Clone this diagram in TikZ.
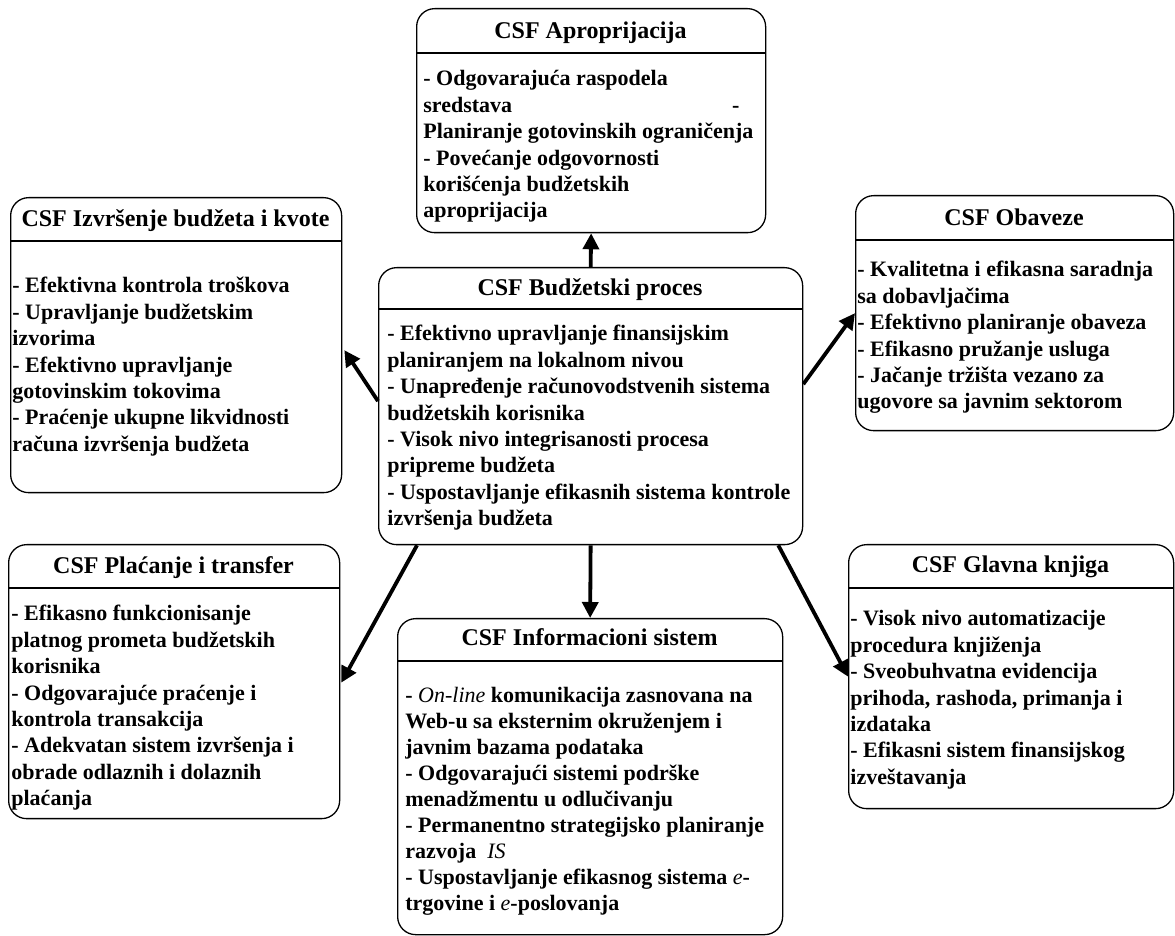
\documentclass[tikz,border=0pt]{standalone}
\usepackage{fontspec}
\setmainfont{Liberation Serif}
\usetikzlibrary{arrows.meta,calc}

% fonts for box titles and box bodies
\newcommand\hdfont{\fontsize{12}{14}\selectfont\bfseries}
\newcommand\bdfont{\fontsize{11}{13.2}\selectfont\bfseries}
\newcommand\infofont{\fontsize{11}{12.95}\selectfont\bfseries}
% left-aligned block of lines whose baseline is that of its first line
\newcommand\csflines[1]{\vtop{\let\\\cr\halign{##\hfil\cr#1\crcr}}}
% rounded box from (x1,y1) to (x2,y2) with a title rule at height y
\newcommand\csfbox[6]{%
  \node[box, minimum width={(#4-#2)*0.5pt}, minimum height={(#5-#3)*0.5pt}] (#1) at (#2,#3) {};
  \draw[rule] (#2,#6) -- (#4,#6);}

\begin{document}
\begin{tikzpicture}[x=0.5pt, y=-0.5pt,
  box/.style={draw, line width=0.65pt, rounded corners=9pt, inner sep=0pt, anchor=north west},
  rule/.style={line width=0.65pt},
  head/.style={font=\hdfont, anchor=base, inner sep=0pt},
  body/.style={font=\bdfont, anchor=base west, inner sep=0pt},
  link/.style={line width=1.9pt, -{Triangle[length=8pt,width=8pt]}}]
\useasboundingbox (0,0) rectangle (1175,936);

% boxes
\csfbox{ap}{416}{8}{765}{232}{53}
\csfbox{izv}{10}{197}{341}{492}{241}
\csfbox{bp}{378}{267}{802}{544}{309}
\csfbox{ob}{855}{195}{1173}{430}{240}
\csfbox{pl}{8}{544}{339}{818}{588}
\csfbox{info}{397}{618}{782}{934}{661}
\csfbox{gk}{848}{544}{1173}{808}{588}

% titles
\node[head] (apH)   at (590.5,39)  {CSF Aproprijacija};
\node[head] (izvH)  at (175.5,227) {CSF Izvršenje budžeta i kvote};
\node[head] (bpH)   at (590,296)   {CSF Budžetski proces};
\node[head] (obH)   at (1014,226)  {CSF Obaveze};
\node[head] (plH)   at (173.5,574) {CSF Plaćanje i transfer};
\node[head] (infoH) at (589.5,646) {CSF Informacioni sistem};
\node[head] (gkH)   at (1010.5,573){CSF Glavna knjiga};

% contents
\node[body] (apT) at (423,86) {\csflines{%
- Odgovarajuća raspodela\\
{\setbox0\hbox{Planiranje gotovinskih ograničenja}\hbox to\wd0{sredstava\hfill-\kern7pt}}\\
Planiranje gotovinskih ograničenja\\
- Povećanje odgovornosti\\
korišćenja budžetskih\\
aproprijacija}};

\node[body] (izvT) at (12,293) {\csflines{%
- Efektivna kontrola troškova\\
- Upravljanje budžetskim\\
izvorima\\
- Efektivno upravljanje\\
gotovinskim tokovima\\
- Praćenje ukupne likvidnosti\\
računa izvršenja budžeta}};

\node[body] (bpT) at (387,341) {\csflines{%
- Efektivno upravljanje finansijskim\\
planiranjem na lokalnom nivou\\
- Unapređenje računovodstvenih sistema\\
budžetskih korisnika\\
- Visok nivo integrisanosti procesa\\
pripreme budžeta\\
- Uspostavljanje efikasnih sistema kontrole\\
izvršenja budžeta}};

\node[body] (obT) at (857,277) {\csflines{%
- Kvalitetna i efikasna saradnja\\
sa dobavljačima\\
- Efektivno planiranje obaveza\\
- Efikasno pružanje usluga\\
- Jačanje tržišta vezano za\\
ugovore sa javnim sektorom}};

\node[body] (plT) at (11,621) {\csflines{%
- Efikasno funkcionisanje\\
platnog prometa budžetskih\\
korisnika\\
- Odgovarajuće praćenje i\\
kontrola transakcija\\
- Adekvatan sistem izvršenja i\\
obrade odlaznih i dolaznih\\
plaćanja}};

\node[body, font=\infofont] (infoT) at (405,703) {\csflines{%
- \textmd{\textit{On-line}} komunikacija zasnovana na\\
Web-u sa eksternim okruženjem i\\
javnim bazama podataka\\
- Odgovarajući sistemi podrške\\
menadžmentu u odlučivanju\\
- Permanentno strategijsko planiranje\\
razvoja~ \textmd{\textit{IS}}\\
- Uspostavljanje efikasnog sistema \textmd{\textit{e}}-\\
trgovine i \textmd{\textit{e}}-poslovanja}};

\node[body] (gkT) at (850,626) {\csflines{%
- Visok nivo automatizacije\\
procedura knjiženja\\
- Sveobuhvatna evidencija\\
prihoda, rashoda, primanja i\\
izdataka\\
- Efikasni sistem finansijskog\\
izveštavanja}};

% connectors from the budget process to the other areas
\draw[link] (bp.north) -- (ap.south);
\draw[link] ($(bp.west)+(0,-5)$) -- ($(izv.east)+(2,5)$);
\draw[link] ($(bp.east)+(0,-22)$) -- (ob.west);
\draw[link] ($(bp.south west)+(39,0)$) -- ($(pl.east)+(1,1)$);
\draw[link] (bp.south) -- (info.north);
\draw[link] ($(bp.south east)+(-25,0)$) -- (gk.west);
\end{tikzpicture}
\end{document}
